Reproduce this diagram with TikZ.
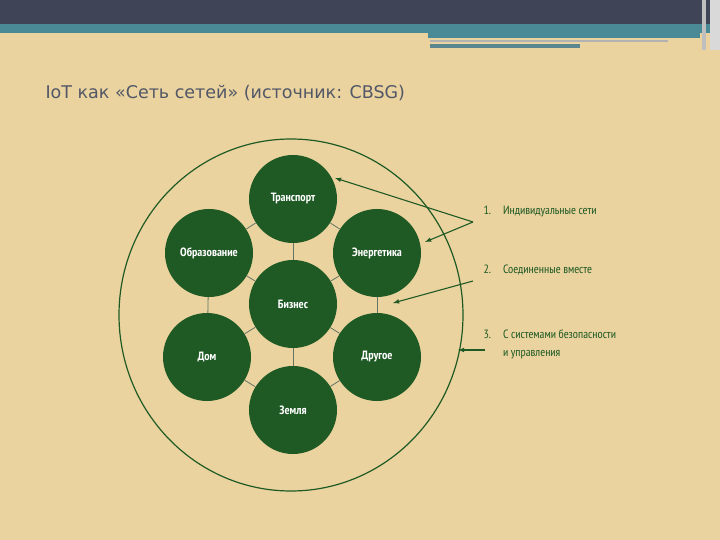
\documentclass[tikz,border=0pt]{standalone}
\usepackage{fontspec}
\setmainfont{PT Sans Narrow}[BoldFont=PT Sans Narrow Bold]
\newfontfamily\titlefont{DejaVu Sans}
\begin{document}
\begin{tikzpicture}[x=1pt,y=-1pt,
  bub/.style={circle,fill=dkg,minimum size=88pt,inner sep=0pt,text=white,font=\fontsize{12}{14}\selectfont\bfseries},
  lnk/.style={draw=gray!70!dkg,line width=0.8pt},
  arr/.style={draw=dkg,line width=1.1pt,-latex},
  lbl/.style={anchor=west,text=dkg,font=\fontsize{12}{18}\selectfont,align=left}]
\definecolor{dkg}{HTML}{1F5A25}
\definecolor{bg}{HTML}{EAD39E}
\definecolor{bar}{HTML}{3F4456}
\definecolor{teal}{HTML}{4A8A96}
\useasboundingbox (0,0) rectangle (720,540);
\fill[bg] (0,0) rectangle (720,540);
\fill[bar] (0,0) rectangle (720,24);
\fill[teal] (0,24) rectangle (720,33);
\fill[teal] (428,33) rectangle (700,38);
\fill[gray!60] (430,40) rectangle (668,42);
\fill[teal!70!gray] (430,44) rectangle (580,48);
\fill[gray!50] (702,0) rectangle (706,50);
\fill[gray!30] (710,0) rectangle (720,50);
\node[anchor=west,text=bar!90,font=\titlefont\fontsize{17.5}{22}\selectfont] (title) at (42,93) {IoT как «Сеть сетей» (источник: CBSG)};
\draw[dkg,line width=1.2pt] (291,315) ellipse (172 and 176);
\node[bub] (tr) at (293,199) {Транспорт};
\node[bub] (ob) at (209,253) {Образование};
\node[bub] (en) at (377,253) {Энергетика};
\node[bub] (bi) at (293,304) {Бизнес};
\node[bub] (dm) at (207,357) {Дом};
\node[bub] (dr) at (377,357) {Другое};
\node[bub] (zm) at (293,410) {Земля};
\foreach \a/\b in {tr/ob,tr/en,tr/bi,ob/bi,en/bi,ob/dm,en/dr,dm/bi,dr/bi,bi/zm,dm/zm,dr/zm}
  \draw[lnk] (\a) -- (\b);
\node[lbl] (l1) at (480,211) {1.\quad Индивидуальные сети};
\node[lbl] (l2) at (480,270) {2.\quad Соединенные вместе};
\node[lbl] (l3) at (480,344) {3.\quad С системами безопасности\\\phantom{3.}\quad и управления};
\coordinate (p1) at (473,222);
\coordinate (p2) at (473,281);
\coordinate (p3) at (485,350);
\draw[arr] (p1) -- (335,178);
\draw[arr] (p1) -- (425,242);
\draw[arr] (p2) -- (393,303);
\draw[arr] (p3) -- (458,350);
\end{tikzpicture}
\end{document}
